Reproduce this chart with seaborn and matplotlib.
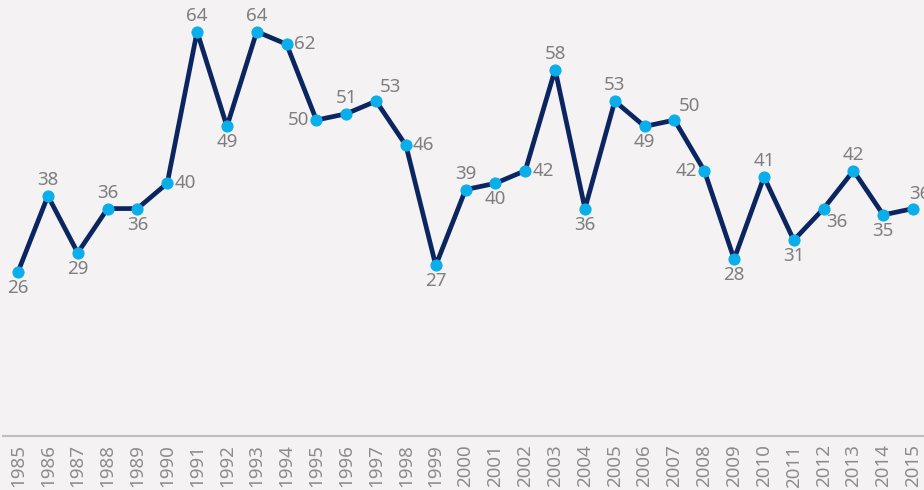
import numpy as np
import pandas as pd
import seaborn as sns
import matplotlib.pyplot as plt

# Data
years = list(range(1985, 2016))
values = [26, 38, 29, 36, 36, 40, 64, 49, 64, 62, 50, 51, 53, 46, 27, 39,
          40, 42, 58, 36, 53, 49, 50, 42, 28, 41, 31, 36, 42, 35, 36]

# where each value label sits relative to its point
label_pos = ['b', 'a', 'b', 'a', 'b', 'r', 'a', 'b', 'a', 'r', 'l', 'a', 'ar', 'r', 'b', 'a',
             'b', 'r', 'a', 'b', 'a', 'b', 'ar', 'l', 'b', 'a', 'b', 'br', 'a', 'b', 'ae']

df = pd.DataFrame({'idx': np.arange(len(years)), 'value': values})

sns.set_theme(style='white')
plt.rcParams['font.family'] = ['Noto Sans', 'DejaVu Sans']

bg = '#f4f2f2'
fig = plt.figure(figsize=(9.24, 4.9), dpi=100, facecolor=bg)
ax = fig.add_axes([0.0034, 0.110, 1.001, 0.890])
ax.set_facecolor(bg)

sns.lineplot(data=df, x='idx', y='value', ax=ax, color='#0b2560', linewidth=3.4,
             marker='o', markersize=8, markerfacecolor='#0aaeea',
             markeredgecolor='#0aaeea', zorder=3)

offsets = {
    'a': ((0, 5), 'center', 'bottom'),
    'b': ((0, -5), 'center', 'top'),
    'r': ((5, 0), 'left', 'center'),
    'l': ((-5, 0), 'right', 'center'),
    'ar': ((3, 4), 'left', 'bottom'),
    'br': ((2, -3), 'left', 'top'),
    'ae': ((-3, 4), 'left', 'bottom'),
}
for i, (v, p) in enumerate(zip(values, label_pos)):
    off, ha, va = offsets[p]
    ax.annotate(str(v), (i, v), xytext=off, textcoords='offset points',
                ha=ha, va=va, fontsize=13.5, color='#7f7f7f', zorder=4,
                annotation_clip=False)

ax.set_xlim(-0.5, len(years) - 0.5)
ax.set_ylim(0, 69)
ax.set_xticks(range(len(years)))
ax.set_xticklabels([str(y) for y in years], rotation=90, fontsize=13.5, color='#8c8c8c')
ax.tick_params(axis='x', length=0, pad=6)
ax.set_yticks([])
ax.set_xlabel('')
ax.set_ylabel('')
for s in ['top', 'right', 'left']:
    ax.spines[s].set_visible(False)
ax.spines['bottom'].set_color('#bfbfbf')
ax.spines['bottom'].set_linewidth(1.5)

fig.savefig('out.png', dpi=100, facecolor=bg)
